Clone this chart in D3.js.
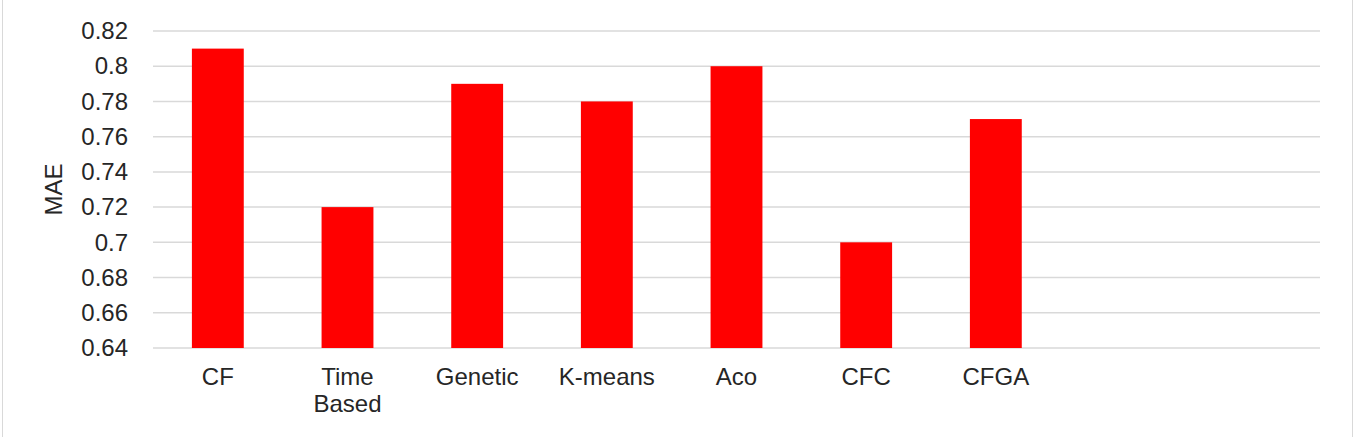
<!DOCTYPE html>
<html>
<head>
<meta charset="utf-8">
<title>MAE bar chart</title>
<script src="https://d3js.org/d3.v7.min.js"></script>
<style>
  body { margin: 0; background: #fff; }
  text { font-family: "Liberation Sans", Arial, sans-serif; fill: #262626; }
</style>
</head>
<body>
<div id="chart"></div>
<script>
// chart data (the last two slots on the axis are empty in the original)
var categories = ["CF", "Time Based", "Genetic", "K-means", "Aco", "CFC", "CFGA", "", " "];
var maeValues = [0.81, 0.72, 0.79, 0.78, 0.80, 0.70, 0.77, null, null];
var yTicks = [0.64, 0.66, 0.68, 0.70, 0.72, 0.74, 0.76, 0.78, 0.80, 0.82];

var totalWidth = 1356, totalHeight = 437;
var plot = {left: 153, right: 1320, top: 31, bottom: 348};

var svg = d3.select("#chart").append("svg")
    .attr("width", totalWidth)
    .attr("height", totalHeight);

// outer frame (only the side edges are visible)
svg.append("line").attr("x1", 2.5).attr("x2", 2.5).attr("y1", 0).attr("y2", totalHeight)
    .attr("stroke", "#d9d9d9").attr("stroke-width", 1);
svg.append("line").attr("x1", 1352.5).attr("x2", 1352.5).attr("y1", 0).attr("y2", totalHeight)
    .attr("stroke", "#d9d9d9").attr("stroke-width", 1);

var x = d3.scaleBand()
    .domain(categories)
    .range([plot.left, plot.right])
    .paddingInner(0.6)
    .paddingOuter(0.3);

var y = d3.scaleLinear()
    .domain([0.64, 0.82])
    .range([plot.bottom, plot.top]);

/* gridlines */
svg.append("g").selectAll("line")
    .data(yTicks)
    .enter().append("line")
    .attr("x1", plot.left)
    .attr("x2", plot.right)
    .attr("y1", function(d){ return y(d); })
    .attr("y2", function(d){ return y(d); })
    .attr("stroke", "#d9d9d9")
    .attr("stroke-width", 1.5);

/* y axis labels */
var yAxis = d3.axisLeft(y)
    .tickValues(yTicks)
    .tickSize(0)
    .tickPadding(25)
    .tickFormat(function(d){ return String(+d.toFixed(2)); });
var gy = svg.append("g")
    .attr("transform", "translate(" + plot.left + ",0)")
    .call(yAxis);
gy.select(".domain").remove();
gy.selectAll("text")
    .attr("font-size", "24px")
    .attr("font-family", "Liberation Sans, Arial, sans-serif")
    .style("fill", "#262626");

/* bars */
svg.append("g").selectAll("rect")
    .data(categories.map(function(c, i){ return {cat: c, value: maeValues[i]}; })
        .filter(function(d){ return d.value != null; }))
    .enter().append("rect")
    .attr("x", function(d){ return x(d.cat); })
    .attr("y", function(d){ return y(d.value); })
    .attr("width", x.bandwidth())
    .attr("height", function(d){ return y(0.64) - y(d.value); })
    .attr("fill", "#ff0000");

/* x labels, wrapped like the original */
var xLabels = svg.append("g").selectAll("text")
    .data(categories)
    .enter().append("text")
    .attr("x", function(d){ return x(d) + x.bandwidth() / 2; })
    .attr("y", 385)
    .attr("text-anchor", "middle")
    .attr("font-size", "24px");

xLabels.each(function(d){
    var el = d3.select(this);
    var words = d.trim() ? d.split(" ") : [];
    var lines = [];
    var cur = "";
    el.text(d);
    if (this.getComputedTextLength() > x.step() * 0.95 && words.length > 1) {
        lines = words;
    } else {
        lines = [d.trim()];
    }
    el.text(null);
    lines.forEach(function(w, i){
        el.append("tspan")
            .attr("x", x(d) + x.bandwidth() / 2)
            .attr("dy", i === 0 ? 0 : 27)
            .text(w);
    });
});

/* y axis title */
svg.append("text")
    .attr("transform", "translate(62," + ((plot.top + plot.bottom) / 2) + ") rotate(-90)")
    .attr("text-anchor", "middle")
    .attr("font-size", "24px")
    .text("MAE");
</script>
</body>
</html>
